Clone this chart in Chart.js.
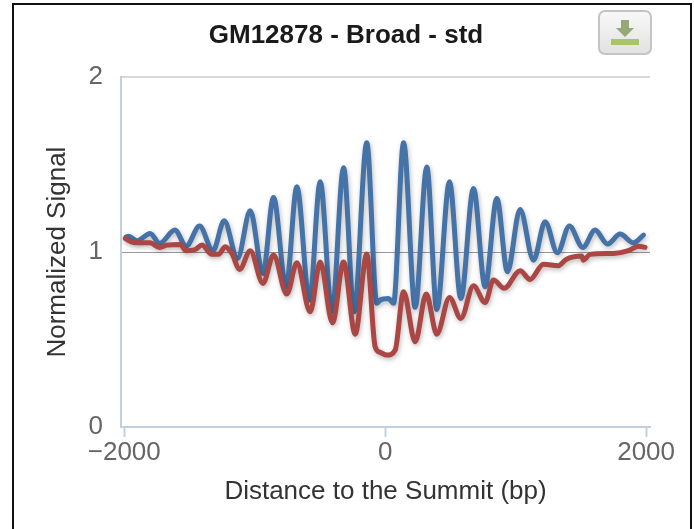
<!DOCTYPE html>
<html>
<head>
<meta charset="utf-8">
<title>GM12878 - Broad - std</title>
<script src="https://cdn.jsdelivr.net/npm/chart.js@4"></script>
<style>
  html, body { margin: 0; padding: 0; background: #fff; overflow: hidden; }
  #wrap { position: relative; width: 694px; height: 529px; }
  #frame { position: absolute; left: 12px; top: 3px; width: 676px; height: 540px; border: 2px solid #111; }
  #chartBox { position: absolute; left: 0; top: 0; width: 678px; height: 529px; }
  #dl { position: absolute; left: 598px; top: 10px; width: 50px; height: 41px; border: 2px solid #c4c4c4; border-radius: 7px;
        background: linear-gradient(#f8f8f8, #e2e2e2); }
  #dl svg { position: absolute; left: 11px; top: 8px; }
</style>
</head>
<body>
<div id="wrap">
  <div id="frame"></div>
  <div id="chartBox"><canvas id="chart" width="678" height="529"></canvas></div>
  <div id="dl">
    <svg width="28" height="28" viewBox="0 0 28 28">
      <path d="M10 0h8v8h5l-9 9-9-9h5z" fill="#96a878"/>
      <rect x="0" y="19" width="28" height="6" fill="#a9c46c"/>
    </svg>
  </div>
</div>
<script>
// значения
const xTicks = [-2000, 0, 2000];
const yTicks = [0, 1, 2];

const blueX = [-1985, -1967, -1903, -1801, -1729, -1612, -1525, -1423, -1320, -1234, -1132, -1034, -937, -856, -759, -677, -580, -498, -408, -319, -238, -141, -64, -38, 26, 64, 141, 230, 319, 396, 493, 580, 677, 766, 856, 937, 1034, 1137, 1226, 1320, 1412, 1515, 1609, 1704, 1801, 1903, 1980];
const blueY = [1.087, 1.091, 1.065, 1.107, 1.05, 1.126, 1.034, 1.149, 1.008, 1.179, 0.964, 1.236, 0.878, 1.312, 0.802, 1.373, 0.726, 1.402, 0.659, 1.482, 0.659, 1.625, 0.707, 0.726, 0.735, 0.707, 1.625, 0.684, 1.487, 0.672, 1.402, 0.735, 1.364, 0.802, 1.307, 0.888, 1.244, 0.954, 1.173, 0.996, 1.149, 1.027, 1.126, 1.046, 1.103, 1.053, 1.097];

const redX = [-1992, -1929, -1801, -1729, -1673, -1571, -1525, -1456, -1405, -1328, -1277, -1226, -1175, -1116, -1034, -937, -856, -754, -677, -575, -498, -404, -319, -230, -141, -77, -38, 13, 77, 141, 230, 315, 396, 493, 580, 677, 766, 830, 912, 1034, 1111, 1213, 1328, 1387, 1507, 1519, 1571, 1750, 1864, 1941, 1992];
const redY = [1.078, 1.055, 1.053, 1.027, 1.04, 1.044, 1.008, 1.015, 1.04, 0.987, 0.987, 1.031, 0.992, 0.901, 1.008, 0.821, 0.983, 0.76, 0.939, 0.659, 0.944, 0.596, 0.944, 0.531, 0.989, 0.459, 0.427, 0.411, 0.44, 0.773, 0.487, 0.76, 0.531, 0.741, 0.621, 0.807, 0.712, 0.84, 0.793, 0.893, 0.844, 0.931, 0.922, 0.958, 0.977, 0.954, 0.987, 0.992, 1.008, 1.034, 1.027];

const toPoints = (xs, ys) => xs.map((x, i) => ({ x: x, y: ys[i] }));

// мягкая тень под линиями
const lineShadow = {
  id: 'lineShadow',
  beforeDatasetDraw(chart) {
    const c = chart.ctx;
    c.save();
    c.shadowColor = 'rgba(0,0,0,0.28)';
    c.shadowBlur = 5;
    c.shadowOffsetX = 1;
    c.shadowOffsetY = 2;
  },
  afterDatasetDraw(chart) {
    chart.ctx.restore();
  }
};

const axisColor = '#C0D0E0';
const fontName = '"Liberation Sans", Arial, sans-serif';

new Chart(document.getElementById('chart').getContext('2d'), {
  type: 'line',
  plugins: [lineShadow],
  data: {
    datasets: [
      { label: 'std', data: toPoints(redX, redY), borderColor: '#AA4643', order: 0 },
      { label: 'signal', data: toPoints(blueX, blueY), borderColor: '#4572A7', order: 1 }
    ]
  },
  options: {
    responsive: false,
    animation: false,
    layout: { padding: { left: 42, right: 28, top: 0, bottom: 22 } },
    elements: {
      point: { radius: 0 },
      line: { borderWidth: 5, cubicInterpolationMode: 'monotone', fill: false, borderCapStyle: 'round', borderJoinStyle: 'round' }
    },
    plugins: {
      legend: { display: false },
      tooltip: { enabled: false },
      title: {
        display: true,
        text: 'GM12878 - Broad - std',
        color: '#1a1a1a',
        font: { family: fontName, size: 26, weight: 'bold' },
        padding: { top: 20, bottom: 26 }
      }
    },
    scales: {
      x: {
        type: 'linear',
        min: -2025,
        max: 2030,
        afterBuildTicks: s => { s.ticks = xTicks.map(v => ({ value: v })); },
        afterFit: s => { s.height = 80; },
        ticks: {
          autoSkip: false,
          maxRotation: 0,
          padding: 0,
          color: '#666',
          font: { family: fontName, size: 26 },
          callback: v => String(v).replace('-', '\u2212')
        },
        grid: { drawOnChartArea: false, drawTicks: true, tickLength: 10, tickColor: axisColor, tickWidth: 2 },
        border: { color: axisColor, width: 2 },
        title: {
          display: true,
          text: 'Distance to the Summit (bp)',
          color: '#333',
          font: { family: fontName, size: 26 },
          padding: { top: 8, bottom: 0 }
        }
      },
      y: {
        min: 0,
        max: 2,
        afterBuildTicks: s => { s.ticks = yTicks.map(v => ({ value: v })); },
        afterFit: s => { s.width = 79; },
        ticks: {
          color: '#666',
          padding: 18,
          font: { family: fontName, size: 26 }
        },
        grid: {
          drawTicks: false,
          color: c => c.tick.value === 1 ? '#999' : (c.tick.value === 2 ? '#d8d8d8' : 'transparent'),
          lineWidth: c => c.tick.value === 2 ? 2 : 1
        },
        border: { color: axisColor, width: 2 },
        title: {
          display: true,
          text: 'Normalized Signal',
          color: '#333',
          font: { family: fontName, size: 26 },
          padding: { top: 0, bottom: 16 }
        }
      }
    }
  }
});
</script>
</body>
</html>
